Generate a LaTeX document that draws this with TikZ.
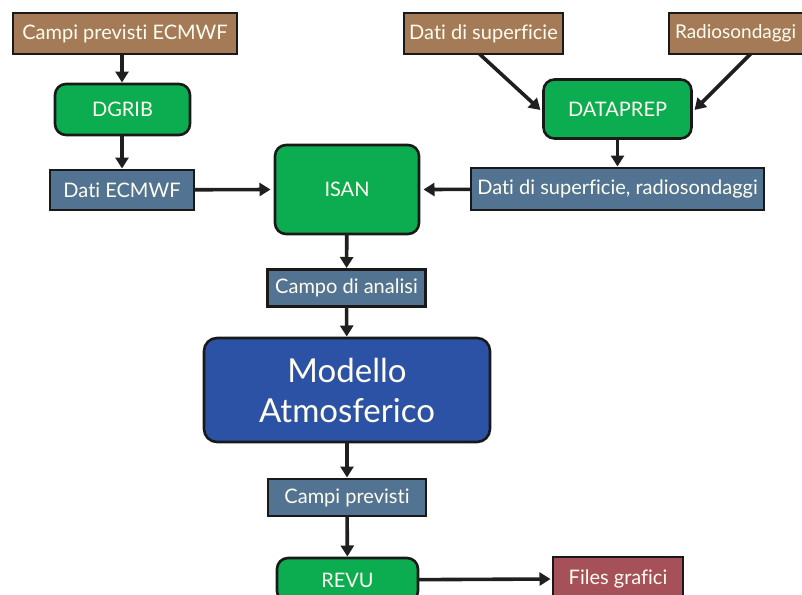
\documentclass[tikz,border=0pt]{standalone}
\usepackage{fontspec}
\setmainfont{Lato}[Ligatures=NoCommon]
\usetikzlibrary{arrows.meta}
\definecolor{srcbrown}{RGB}{165,122,86}
\definecolor{progreen}{RGB}{12,172,80}
\definecolor{datablue}{RGB}{82,116,146}
\definecolor{modelblue}{RGB}{44,82,166}
\definecolor{outred}{RGB}{166,80,90}

\begin{document}
\begin{tikzpicture}[x=1pt, y=-1pt,
    box/.style={draw=black!90, line width=2.6pt, text=white!94!yellow, inner sep=0pt, outer sep=0pt,
      align=center, font=\fontsize{20}{22}\selectfont},
    src/.style={box, fill=srcbrown},
    prog/.style={box, fill=progreen, rounded corners=11pt},
    data/.style={box, fill=datablue},
    flow/.style={line width=3.6pt, draw=black!88, -{Triangle[length=11pt, width=13pt]}, shorten >=1.5pt}]
    \useasboundingbox (0,0) rectangle (802,594);
    \clip (0,0) rectangle (802,594);
    % sources
    \node[src, minimum width=224pt, minimum height=41pt] (ecmwf) at (125,33.5) {Campi previsti ECMWF};
    \node[src, minimum width=159pt, minimum height=41pt] (sup) at (483.5,33.5) {Dati di superficie};
    \node[src, minimum width=143pt, minimum height=41pt, text width=131pt, align=left,
      font=\fontsize{19}{22}\selectfont] (radio) at (740.5,33.5) {Radiosondaggi};
    % programs
    \node[prog, minimum width=135pt, minimum height=51pt] (dgrib) at (122.5,109.5) {DGRIB};
    \node[prog, minimum width=148pt, minimum height=59pt] (dataprep) at (617.5,109) {DATAPREP};
    \node[prog, minimum width=144pt, minimum height=89pt] (isan) at (347,189.5) {ISAN};
    \node[prog, minimum width=141pt, minimum height=44pt] (revu) at (347.5,580) {REVU};
    % data
    \node[data, minimum width=144pt, minimum height=40pt] (datiecmwf) at (122,190) {Dati ECMWF};
    \node[data, minimum width=293pt, minimum height=42pt] (datisr) at (617.5,189) {Dati di superficie, radiosondaggi};
    \node[data, minimum width=158pt, minimum height=37pt] (analisi) at (346.5,288) {Campo di analisi};
    \node[data, minimum width=158pt, minimum height=37pt] (previsti) at (347,497.5) {Campi previsti};
    % model and output
    \node[box, fill=modelblue, rounded corners=13pt, minimum width=286pt, minimum height=104pt,
      font=\fontsize{33}{40}\selectfont] (modello) at (347,390) {Modello\\Atmosferico};
    \node[box, fill=outred, minimum width=130pt, minimum height=44pt] (grafici) at (618,579) {Files grafici};
    % connections
    \draw[flow] ([xshift=-3pt]ecmwf.south) -- ([xshift=-0.5pt]dgrib.north);
    \draw[flow] ([xshift=-0.5pt]dgrib.south) -- (datiecmwf);
    \draw[flow] (datiecmwf) -- ([xshift=-3pt]isan.west);
    \draw[flow] ([xshift=-4pt]sup.south) -- ([xshift=-2pt, yshift=-2pt]dataprep.west);
    \draw[flow] ([xshift=10pt]radio.south) -- ([xshift=2pt, yshift=-2pt]dataprep.east);
    \draw[flow] (dataprep) -- (datisr);
    \draw[flow] (datisr) -- ([xshift=3pt]isan.east);
    \draw[flow] (isan) -- (analisi);
    \draw[flow] (analisi) -- (modello);
    \draw[flow] (modello) -- (previsti);
    \draw[flow] (previsti) -- (revu);
    \draw[flow] (revu) -- ([xshift=-1pt]grafici.west);
\end{tikzpicture}
\end{document}
